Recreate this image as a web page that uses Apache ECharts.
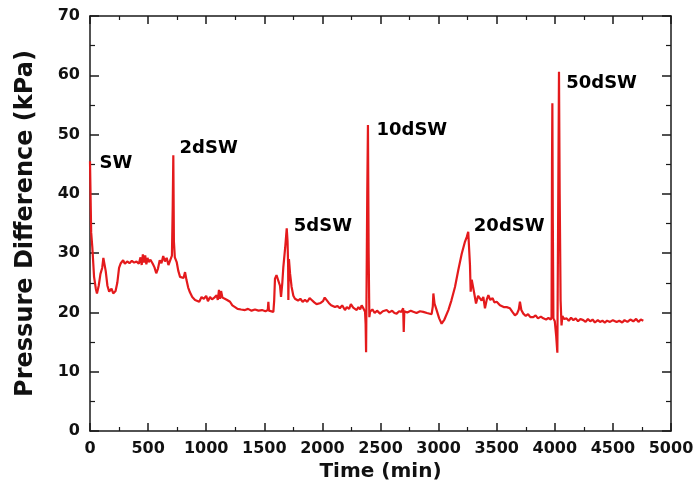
<!DOCTYPE html>
<html>
<head>
<meta charset="utf-8">
<script src="https://cdn.jsdelivr.net/npm/echarts@6/dist/echarts.min.js"></script>
<style>
  html, body { margin: 0; padding: 0; background: #fff; }
  #chart { width: 693px; height: 498px; }
</style>
</head>
<body>
<div id="chart"></div>
<script>
// time (min) and pressure difference (kPa)
const timeMin = [
  0, 5, 10, 20, 35, 50, 60, 75, 90, 105, 115, 125, 135, 150, 165, 185, 200, 220, 235, 250,
  265, 285, 300, 320, 340, 360, 380, 400, 420, 435, 445, 455, 465, 475, 485, 495, 505, 520, 540, 555,
  570, 585, 600, 615, 630, 645, 660, 675, 690, 705, 712, 717, 722, 730, 746, 760, 775, 790, 805, 818,
  830, 845, 860, 880, 904, 920, 940, 960, 980, 1000, 1015, 1033, 1050, 1070, 1090, 1100, 1110, 1119, 1128, 1140,
  1160, 1180, 1205, 1225, 1248, 1270, 1300, 1334, 1360, 1390, 1420, 1450, 1480, 1510, 1530, 1535, 1540, 1578, 1585, 1592,
  1605, 1621, 1635, 1644, 1655, 1664, 1680, 1693, 1700, 1705, 1707, 1712, 1722, 1735, 1750, 1764, 1790, 1810, 1830, 1850,
  1870, 1890, 1908, 1930, 1950, 1965, 1985, 2005, 2020, 2037, 2055, 2075, 2090, 2108, 2130, 2150, 2170, 2194, 2210, 2230,
  2245, 2252, 2265, 2280, 2295, 2310, 2325, 2338, 2355, 2367, 2372, 2376, 2386, 2392, 2398, 2404, 2410, 2430, 2450, 2470,
  2496, 2520, 2553, 2575, 2600, 2620, 2639, 2660, 2680, 2695, 2700, 2705, 2730, 2760, 2782, 2810, 2840, 2868, 2900, 2940,
  2950, 2955, 2965, 2983, 3005, 3026, 3050, 3084, 3110, 3141, 3170, 3199, 3225, 3242, 3255, 3262, 3270, 3276, 3285, 3293,
  3305, 3322, 3340, 3356, 3370, 3385, 3399, 3415, 3428, 3445, 3465, 3480, 3500, 3528, 3545, 3560, 3586, 3600, 3614, 3635,
  3657, 3675, 3690, 3700, 3712, 3729, 3750, 3770, 3790, 3815, 3835, 3855, 3880, 3901, 3925, 3945, 3965, 3972, 3976, 3979,
  3983, 3988, 4000, 4012, 4022, 4030, 4036, 4042, 4050, 4058, 4065, 4080, 4102, 4120, 4140, 4160, 4180, 4200, 4220, 4245,
  4265, 4285, 4305, 4325, 4345, 4370, 4389, 4410, 4430, 4450, 4475, 4500, 4532, 4555, 4580, 4600, 4625, 4650, 4676, 4700,
  4720, 4740, 4762
];
const pressureKPa = [
  45.5, 45.7, 33.5, 31, 26, 24, 23.2, 24.5, 26.5, 27.5, 29.2, 29.4, 27, 24.5, 23.5, 24, 23.2, 23.6, 25, 27.5,
  28.3, 28.8, 28.2, 28.6, 28.3, 28.7, 28.4, 28.6, 28.2, 29.3, 28, 29.8, 28.4, 29.6, 28.1, 29.2, 28.5, 28.9, 28.2, 27.6,
  26.6, 27.4, 28.8, 28.3, 29.5, 28.6, 29.2, 28, 28.8, 29.6, 38, 46.5, 32, 29.3, 28.5, 27, 26, 26.3, 25.8, 26.8,
  25.5, 24.2, 23.4, 22.6, 22.1, 22.4, 21.8, 22.6, 22.3, 22.8, 21.9, 22.6, 22.2, 22.5, 22.9, 22.1, 23.8, 22.3, 23.6, 22.5,
  22.3, 22.1, 21.8, 21.2, 20.9, 20.6, 20.5, 20.4, 20.6, 20.3, 20.5, 20.3, 20.4, 20.2, 20.4, 21.8, 20.3, 20.1, 22, 25.7,
  26.3, 26.1, 24.5, 22.6, 25, 27.7, 31, 34.2, 32, 28, 22.1, 29, 26.5, 24.3, 22.8, 22.3, 22.0, 22.3, 21.8, 22.1,
  21.8, 22.4, 22.1, 21.7, 21.4, 21.2, 21.6, 21.9, 22.5, 22.3, 21.6, 21.2, 21.5, 20.9, 21.1, 20.7, 21.2, 20.4, 20.9, 20.6,
  21.4, 21.5, 20.8, 20.6, 20.4, 20.9, 20.5, 21.2, 20.6, 20.1, 18, 13.3, 40, 51.6, 30, 19.2, 20.1, 20.5, 19.9, 20.3,
  19.8, 20.2, 20.4, 20.0, 20.3, 19.9, 19.8, 20.2, 20.1, 20.7, 16.7, 20.2, 20.0, 20.3, 20.1, 19.9, 20.2, 20.1, 19.9, 19.7,
  21, 23.2, 21.5, 20.4, 19, 18.1, 18.8, 20.4, 22, 24.3, 27.2, 29.9, 31.8, 32.7, 33.6, 33.9, 28, 23.5, 25.5, 25.7,
  23.4, 21.5, 22.8, 22.9, 22, 22.6, 20.7, 22.2, 22.9, 22.1, 22.4, 21.7, 21.8, 21.2, 21.5, 20.9, 20.9, 20.6, 20.7, 20.1,
  19.5, 19.8, 20.5, 21.8, 20.4, 19.8, 19.4, 19.7, 19.2, 19.2, 19.5, 19.0, 19.3, 19.0, 18.8, 19.1, 18.8, 19.2, 45, 55.3,
  35, 19, 18.5, 16, 13.2, 40, 60.6, 40, 22, 17.8, 19.4, 18.9, 19.0, 18.6, 19.1, 18.7, 19.0, 18.5, 18.9, 18.7,
  18.4, 18.9, 18.5, 18.8, 18.3, 18.7, 18.4, 18.6, 18.3, 18.6, 18.4, 18.7, 18.4, 18.6, 18.3, 18.7, 18.4, 18.8, 18.5, 18.9,
  18.4, 18.8, 18.6
];

// peak labels, anchored at the left edge of each text
const peakNames = ['SW', '2dSW', '5dSW', '10dSW', '20dSW', '50dSW'];
const peakTimes = [77, 766, 1750, 2461, 3299, 4094];
const peakValues = [45.1, 47.7, 34.6, 50.7, 34.6, 58.6];

const chart = echarts.init(document.getElementById('chart'));

const font = 'DejaVu Sans';
const axisColor = '#1a1a1a';

function xAxisCfg(pos, labels) {
  return {
    type: 'value', position: pos, min: 0, max: 5000, interval: 500,
    axisLine: { show: true, onZero: false, lineStyle: { color: axisColor, width: 1.5 } },
    axisTick: { show: true, inside: true, length: 8, lineStyle: { color: axisColor, width: 1.5 } },
    minorTick: { show: true, splitNumber: 2, length: 4, lineStyle: { color: axisColor, width: 1.2 } },
    splitLine: { show: false },
    axisLabel: {
      show: labels, margin: 10, color: '#111', fontFamily: font, fontWeight: 'bold', fontSize: 16,
      formatter: v => String(v)
    },
    name: labels ? 'Time (min)' : '',
    nameLocation: 'middle', nameGap: 30,
    nameTextStyle: { color: '#111', fontFamily: font, fontWeight: 'bold', fontSize: 20 }
  };
}

function yAxisCfg(pos, labels) {
  return {
    type: 'value', position: pos, min: 0, max: 70, interval: 10,
    axisLine: { show: true, onZero: false, lineStyle: { color: axisColor, width: 1.5 } },
    axisTick: { show: true, inside: true, length: 9, lineStyle: { color: axisColor, width: 1.5 } },
    minorTick: { show: true, splitNumber: 2, length: 5, lineStyle: { color: axisColor, width: 1.2 } },
    splitLine: { show: false },
    axisLabel: { show: labels, margin: 10, color: '#111', fontFamily: font, fontWeight: 'bold', fontSize: 16 },
    name: labels ? 'Pressure Difference (kPa)' : '',
    nameLocation: 'middle', nameGap: 52,
    nameTextStyle: { color: '#111', fontFamily: font, fontWeight: 'bold', fontSize: 24 }
  };
}

chart.setOption({
  animation: false,
  backgroundColor: '#fff',
  grid: { left: 90, right: 22, top: 16, bottom: 67, outerBoundsMode: 'none', containLabel: false },
  xAxis: [xAxisCfg('bottom', true), xAxisCfg('top', false)],
  yAxis: [yAxisCfg('left', true), yAxisCfg('right', false)],
  series: [
    {
      type: 'line',
      data: timeMin.map((t, i) => [t, pressureKPa[i]]),
      showSymbol: false,
      lineStyle: { color: '#e41a1c', width: 2.2 },
      itemStyle: { color: '#e41a1c' },
      z: 3
    },
    {
      type: 'scatter',
      symbolSize: 1,
      itemStyle: { color: 'rgba(0,0,0,0)', opacity: 1 },
      data: peakNames.map((n, i) => ({ name: n, value: [peakTimes[i], peakValues[i]] })),
      label: {
        show: true, position: 'right', distance: 0,
        formatter: p => p.name,
        color: '#000', opacity: 1, textBorderWidth: 0,
        fontFamily: font, fontWeight: 'bold', fontSize: 18
      },
      z: 5
    }
  ]
});
</script>
</body>
</html>
